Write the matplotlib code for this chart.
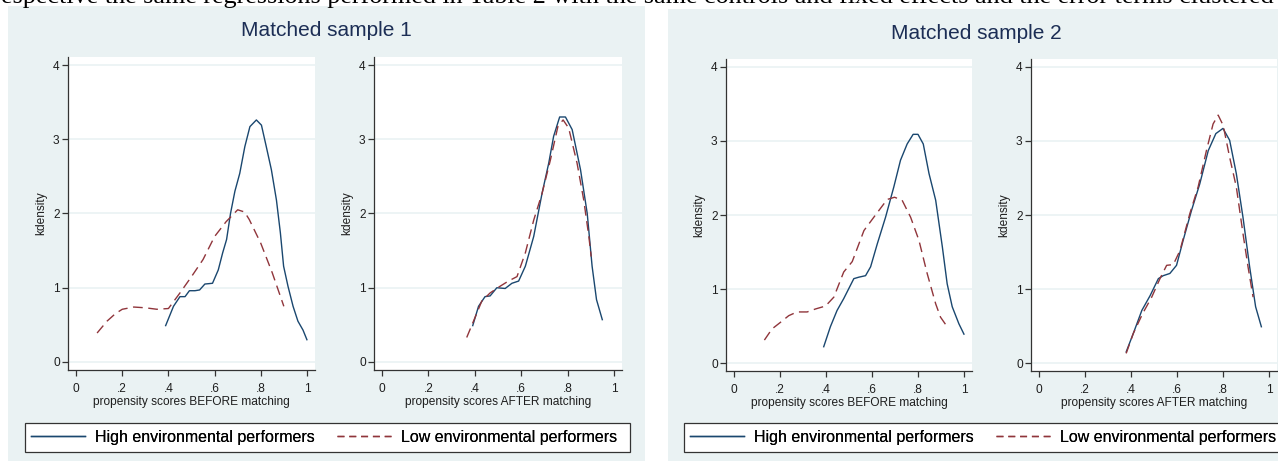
import numpy as np
from matplotlib import pyplot as plt
from matplotlib.patches import Rectangle
from matplotlib.lines import Line2D

# ---- data (kernel density curves) ----
# sample 1, before matching
s1_before_high_x = [0.388, 0.422, 0.450, 0.472, 0.491, 0.515, 0.535, 0.558, 0.591, 0.616, 0.635, 0.652, 0.669,
                    0.688, 0.709, 0.731, 0.753, 0.781, 0.803, 0.824, 0.846, 0.868, 0.885, 0.899, 0.918, 0.940,
                    0.961, 0.983, 1.0]
s1_before_high_y = [0.49, 0.75, 0.88, 0.88, 0.96, 0.96, 0.97, 1.05, 1.06, 1.24, 1.47, 1.65, 2.0,
                    2.30, 2.54, 2.90, 3.17, 3.26, 3.19, 2.90, 2.59, 2.18, 1.74, 1.29, 1.02, 0.75,
                    0.55, 0.43, 0.30]
s1_before_low_x = [0.091, 0.134, 0.17, 0.20, 0.25, 0.30, 0.35, 0.40, 0.45, 0.50, 0.55, 0.60, 0.65, 0.70,
                   0.73, 0.75, 0.80, 0.85, 0.90]
s1_before_low_y = [0.39, 0.55, 0.65, 0.71, 0.74, 0.73, 0.71, 0.72, 0.93, 1.15, 1.38, 1.69, 1.89, 2.05,
                   2.02, 1.92, 1.60, 1.20, 0.75]

# sample 1, after matching
s1_after_high_x = [0.391, 0.416, 0.444, 0.466, 0.495, 0.531, 0.56, 0.589, 0.618, 0.654, 0.69, 0.719, 0.74,
                   0.766, 0.791, 0.82, 0.856, 0.885, 0.906, 0.925, 0.95]
s1_after_high_y = [0.49, 0.75, 0.88, 0.89, 1.0, 0.99, 1.06, 1.09, 1.29, 1.69, 2.27, 2.68, 3.04,
                   3.30, 3.30, 3.13, 2.59, 2.0, 1.29, 0.84, 0.57]
s1_after_low_x = [0.365, 0.397, 0.43, 0.466, 0.509, 0.545, 0.582, 0.618, 0.654, 0.69, 0.726, 0.759, 0.781,
                  0.805, 0.841, 0.87, 0.892, 0.902]
s1_after_low_y = [0.33, 0.57, 0.82, 0.93, 1.02, 1.09, 1.15, 1.47, 1.91, 2.27, 2.72, 3.18, 3.26,
                  3.15, 2.68, 2.18, 1.69, 1.42]

# sample 2, before matching
s2_before_high_x = [0.39, 0.419, 0.448, 0.477, 0.521, 0.543, 0.572, 0.594, 0.623, 0.659, 0.695, 0.724, 0.753,
                    0.779, 0.80, 0.823, 0.848, 0.877, 0.906, 0.927, 0.949, 0.978, 1.0]
s2_before_high_y = [0.22, 0.49, 0.71, 0.87, 1.14, 1.16, 1.18, 1.30, 1.61, 1.97, 2.38, 2.74, 2.96,
                    3.09, 3.09, 2.96, 2.56, 2.20, 1.57, 1.07, 0.76, 0.53, 0.39]
s2_before_low_x = [0.132, 0.165, 0.202, 0.238, 0.274, 0.318, 0.354, 0.398, 0.434, 0.477, 0.514, 0.565, 0.608,
                   0.666, 0.698, 0.731, 0.768, 0.804, 0.84, 0.877, 0.898, 0.927]
s2_before_low_y = [0.31, 0.46, 0.55, 0.64, 0.69, 0.69, 0.73, 0.77, 0.89, 1.23, 1.37, 1.79, 1.97,
                   2.21, 2.24, 2.20, 1.97, 1.66, 1.21, 0.80, 0.62, 0.49]

# sample 2, after matching
s2_after_high_x = [0.379, 0.41, 0.447, 0.483, 0.519, 0.54, 0.569, 0.598, 0.627, 0.663, 0.699, 0.736, 0.769,
                   0.80, 0.829, 0.858, 0.887, 0.916, 0.942, 0.967]
s2_after_high_y = [0.15, 0.40, 0.71, 0.91, 1.14, 1.18, 1.21, 1.32, 1.66, 2.06, 2.42, 2.87, 3.10,
                   3.17, 3.01, 2.56, 1.97, 1.30, 0.76, 0.49]
s2_after_low_x = [0.379, 0.41, 0.451, 0.49, 0.526, 0.555, 0.584, 0.613, 0.656, 0.692, 0.728, 0.757, 0.779,
                  0.801, 0.829, 0.858, 0.887, 0.909, 0.931]
s2_after_low_y = [0.13, 0.40, 0.67, 0.89, 1.14, 1.32, 1.33, 1.52, 2.02, 2.38, 2.87, 3.23, 3.35,
                  3.21, 2.78, 2.38, 1.75, 1.30, 0.89]

x_ticks = [0, 0.2, 0.4, 0.6, 0.8, 1]
x_ticklabels = ['0', '.2', '.4', '.6', '.8', '1']
y_ticks = [0, 1, 2, 3, 4]
panel_titles = ['Matched sample 1', 'Matched sample 2']
x_labels = ['propensity scores BEFORE matching', 'propensity scores AFTER matching']
legend_labels = ['High environmental performers', 'Low environmental performers']
page_text = ('espective the same regressions performed in Table 2 with the same controls '
             'and fixed effects and the error terms clustered')

# ---- style ----
W, H = 1278, 461
BG = '#EAF2F3'
NAVY = '#1A476F'
MAROON = '#90353B'
TXT = '#1E1E1E'
TITLE = '#1C2E55'

plt.rcParams['font.family'] = ['Liberation Sans', 'DejaVu Sans']


def rect(x0, y0, x1, y1):
    # pixel box (top-left origin) -> figure fraction
    return [x0 / W, 1 - y1 / H, (x1 - x0) / W, (y1 - y0) / H]


def kd_panel(ax, hx, hy, lx, ly, xlabel):
    ax.set_facecolor('white')
    ax.plot(hx, hy, color=NAVY, lw=1.0)
    ax.plot(lx, ly, color=MAROON, lw=1.0, dashes=(7, 4))
    ax.set_xlim(-0.035, 1.035)
    ax.set_ylim(-0.108, 4.108)
    ax.set_xticks(x_ticks)
    ax.set_xticklabels(x_ticklabels)
    ax.set_yticks(y_ticks)
    for v in y_ticks:
        ax.axhline(v, color=BG, lw=1.2, zorder=0)
    for s in ['top', 'right']:
        ax.spines[s].set_visible(False)
    for s in ['left', 'bottom']:
        ax.spines[s].set_color('#333333')
        ax.spines[s].set_linewidth(0.9)
    ax.tick_params(direction='out', length=4, width=0.9, color='#333333',
                   labelsize=8.6, labelcolor=TXT, pad=2)
    ax.tick_params(axis='x', pad=5)
    ax.set_xlabel(xlabel, fontsize=8.6, color=TXT, labelpad=1)
    ax.set_ylabel('kdensity', fontsize=8.6, color=TXT, labelpad=4)


fig = plt.figure(figsize=(W / 100, H / 100), dpi=100)
fig.patch.set_facecolor('white')

# panel backgrounds
fig.patches.append(Rectangle((8 / W, 0), (645 - 8) / W, 1 - 6 / H, transform=fig.transFigure,
                             facecolor=BG, edgecolor='none', zorder=-10))
fig.patches.append(Rectangle((668 / W, 0), (W - 668) / W, 1 - 9 / H, transform=fig.transFigure,
                             facecolor=BG, edgecolor='none', zorder=-10))

fig.text(1 / W, 1 - 2.5 / H, page_text, family=['Liberation Serif', 'DejaVu Serif'],
         fontsize=18.8, color='black', va='baseline', ha='left')

axes_px = [(68, 57, 315, 370), (374, 57, 622, 370), (726, 59, 972, 371), (1031, 59, 1277, 371)]
curves = [(s1_before_high_x, s1_before_high_y, s1_before_low_x, s1_before_low_y),
          (s1_after_high_x, s1_after_high_y, s1_after_low_x, s1_after_low_y),
          (s2_before_high_x, s2_before_high_y, s2_before_low_x, s2_before_low_y),
          (s2_after_high_x, s2_after_high_y, s2_after_low_x, s2_after_low_y)]
for i, (box, c) in enumerate(zip(axes_px, curves)):
    ax = fig.add_axes(rect(*box))
    kd_panel(ax, c[0], c[1], c[2], c[3], x_labels[i % 2])

fig.text(326 / W, 1 - 31 / H, panel_titles[0], fontsize=15, color=TITLE, ha='center', va='center')
fig.text(976 / W, 1 - 33 / H, panel_titles[1], fontsize=15, color=TITLE, ha='center', va='center')

handles = [Line2D([], [], color=NAVY, lw=1.0),
           Line2D([], [], color=MAROON, lw=1.0, dashes=(5, 3.5))]
for x0, x1 in [(25, 630), (684, 1289)]:
    y0, y1 = 423, 452
    fig.patches.append(Rectangle((x0 / W, 1 - y1 / H), (x1 - x0) / W, (y1 - y0) / H,
                                 transform=fig.transFigure, facecolor='white',
                                 edgecolor='#333333', lw=0.9, zorder=-5))
    leg = fig.legend(handles, legend_labels, loc='center left', ncol=2,
                     bbox_to_anchor=((x0 + 6) / W, 1 - (y0 + y1) / 2 / H),
                     fontsize=11.5, frameon=False, handlelength=3.4, handletextpad=0.6,
                     borderpad=0, borderaxespad=0, columnspacing=1.4)
    fig.add_artist(leg)

fig.savefig('out.png', dpi=100)
